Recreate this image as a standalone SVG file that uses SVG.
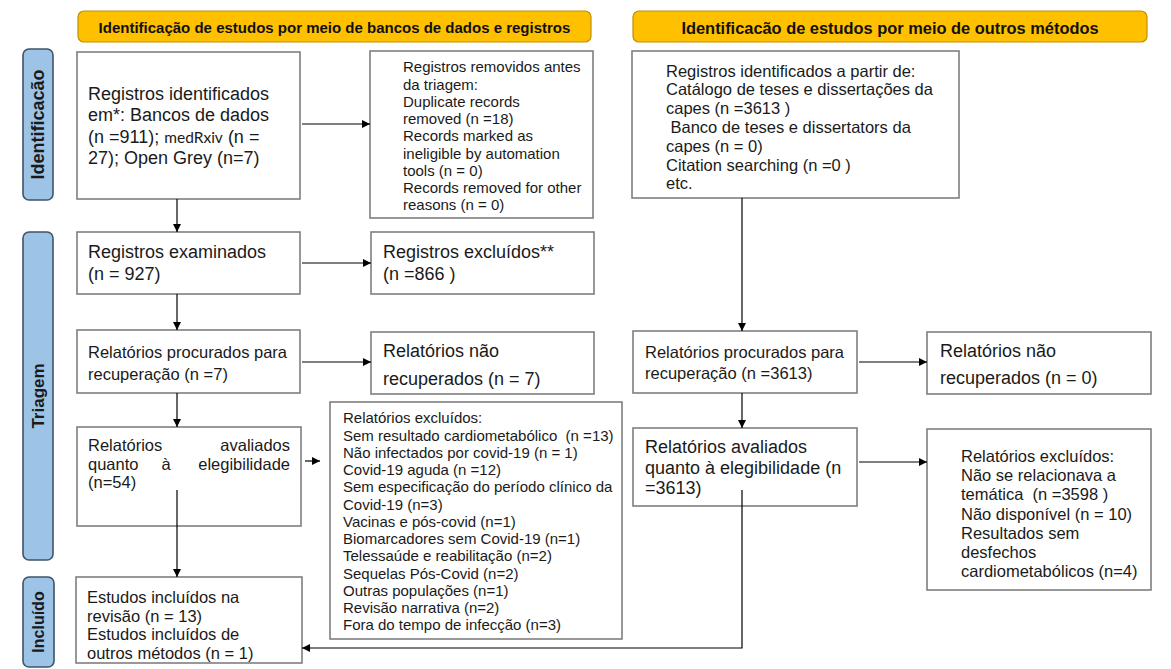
<svg xmlns="http://www.w3.org/2000/svg" width="1171" height="669" viewBox="0 0 1171 669">
<style>
text{font-family:"Liberation Sans",Arial,sans-serif;fill:#1a1a1a}
.box{fill:#fff;stroke:#7f7f7f;stroke-width:1.6}
.hdr{fill:#FFC000;stroke:#BF9000;stroke-width:1.2}
.side{fill:#9DC3E6;stroke:#3E5468;stroke-width:1.6}
.ht{font-weight:bold;text-anchor:middle;fill:#111}
.st{font-weight:bold;text-anchor:middle;fill:#1a1a1a}
.f18{font-size:18px}
.f165{font-size:16.5px}
.f15{font-size:15px}
.con{fill:none;stroke:#000;stroke-width:1.2;marker-end:url(#ah)}
</style>
<defs>
<marker id="ah" viewBox="0 0 10 10" refX="10" refY="5" markerWidth="9" markerHeight="8" markerUnits="userSpaceOnUse" orient="auto">
<path d="M0,0 L10,5 L0,10 z" fill="#000"/>
</marker>
</defs>
<rect width="1171" height="669" fill="#fff"/>

<g id="header-left">
<rect class="hdr" x="78" y="11" width="513" height="31" rx="6"/>
<text class="ht" x="334.5" y="33" font-size="15">Identificação de estudos por meio de bancos de dados e registros</text>
</g>
<g id="header-right">
<rect class="hdr" x="633" y="11" width="514" height="31" rx="6"/>
<text class="ht" x="890" y="34" font-size="16.4">Identificacão de estudos por meio de outros métodos</text>
</g>

<g id="side-identificacao">
<rect class="side" x="23" y="49" width="30" height="151" rx="6"/>
<text class="st" font-size="18" transform="translate(38,124.5) rotate(-90)" dy="6.3">Identificacão</text>
</g>
<g id="side-triagem">
<rect class="side" x="23" y="232" width="30" height="328" rx="6"/>
<text class="st" font-size="17" transform="translate(38,396) rotate(-90)" dy="6">Triagem</text>
</g>
<g id="side-incluido">
<rect class="side" x="23" y="577" width="31" height="90" rx="6"/>
<text class="st" font-size="16" transform="translate(38.5,622) rotate(-90)" dy="5.6">Incluído</text>
</g>

<g id="registros-identificados">
<rect class="box" x="77" y="52" width="223" height="147"/>
<text class="f18" x="88" y="99.5">Registros identificados</text>
<text class="f18" x="88" y="121">em*: Bancos de dados</text>
<text class="f18" x="88" y="142.5">(n =911); <tspan font-family="Lato, 'Open Sans', sans-serif" font-size="15.5">medRxiv</tspan> (n =</text>
<text class="f18" x="88" y="164">27); Open Grey (n=7)</text>
</g>

<g id="registros-removidos">
<rect class="box" x="370" y="51" width="223" height="167"/>
<text class="f15" x="403" y="72.3">Registros removidos antes</text>
<text class="f15" x="403" y="89.5">da triagem:</text>
<text class="f15" x="403" y="106.8">Duplicate records</text>
<text class="f15" x="403" y="124">removed (n =18)</text>
<text class="f15" x="403" y="141.3">Records marked as</text>
<text class="f15" x="403" y="158.5">ineligible by automation</text>
<text class="f15" x="403" y="175.8">tools (n = 0)</text>
<text class="f15" x="403" y="193">Records removed for other</text>
<text class="f15" x="403" y="210.3">reasons (n = 0)</text>
</g>

<g id="registros-examinados">
<rect class="box" x="77" y="232" width="223" height="62"/>
<text class="f18" x="88" y="258">Registros examinados</text>
<text class="f18" x="88" y="280">(n = 927)</text>
</g>

<g id="registros-excluidos">
<rect class="box" x="371" y="232" width="223" height="62"/>
<text class="f18" x="383" y="258">Registros excluídos**</text>
<text class="f18" x="383" y="280">(n =866 )</text>
</g>

<g id="relatorios-procurados-1">
<rect class="box" x="77" y="330" width="223" height="63"/>
<text class="f165" x="88" y="358">Relatórios procurados para</text>
<text class="f165" x="88" y="380">recuperação (n =7)</text>
</g>

<g id="relatorios-nao-recuperados-1">
<rect class="box" x="371" y="332" width="223" height="62"/>
<text class="f18" x="383" y="357">Relatórios não</text>
<text class="f18" x="383" y="385">recuperados (n = 7)</text>
</g>

<g id="relatorios-avaliados-1">
<rect class="box" x="77" y="427" width="224" height="99"/>
<text class="f165" x="88" y="451">Relatórios</text>
<text class="f165" x="290" y="451" text-anchor="end">avaliados</text>
<text class="f165" x="88" y="470">quanto</text>
<text class="f165" x="166" y="470" text-anchor="middle">à</text>
<text class="f165" x="290" y="470" text-anchor="end">elegibilidade</text>
<text class="f165" x="88" y="488">(n=54)</text>
</g>

<g id="relatorios-excluidos-1">
<rect class="box" x="330" y="402" width="292" height="237"/>
<text class="f15" x="343" y="423.3">Relatórios excluídos:</text>
<text class="f15" x="343" y="440.5" xml:space="preserve">Sem resultado cardiometabólico  (n =13)</text>
<text class="f15" x="343" y="457.8">Não infectados por covid-19 (n = 1)</text>
<text class="f15" x="343" y="475">Covid-19 aguda (n =12)</text>
<text class="f15" x="343" y="492.3">Sem especificação do período clínico da</text>
<text class="f15" x="343" y="509.5">Covid-19 (n=3)</text>
<text class="f15" x="343" y="526.8">Vacinas e pós-covid (n=1)</text>
<text class="f15" x="343" y="544">Biomarcadores sem Covid-19 (n=1)</text>
<text class="f15" x="343" y="561.3">Telessaúde e reabilitação (n=2)</text>
<text class="f15" x="343" y="578.5">Sequelas Pós-Covid (n=2)</text>
<text class="f15" x="343" y="595.8">Outras populações (n=1)</text>
<text class="f15" x="343" y="613">Revisão narrativa (n=2)</text>
<text class="f15" x="343" y="630.3">Fora do tempo de infecção (n=3)</text>
</g>

<g id="estudos-incluidos">
<rect class="box" x="76" y="577" width="226" height="86"/>
<text class="f165" x="87" y="603">Estudos incluídos na</text>
<text class="f165" x="87" y="622">revisão (n = 13)</text>
<text class="f165" x="87" y="640">Estudos incluídos de</text>
<text class="f165" x="87" y="658.5">outros métodos (n = 1)</text>
</g>

<g id="registros-outros">
<rect class="box" x="632" y="51" width="327" height="147"/>
<text class="f165" x="666" y="76.5">Registros identificados a partir de:</text>
<text class="f165" x="666" y="95.3">Catálogo de teses e dissertações da</text>
<text class="f165" x="666" y="114.1">capes (n =3613 )</text>
<text class="f165" x="670.5" y="132.9">Banco de teses e dissertators da</text>
<text class="f165" x="666" y="151.7">capes (n = 0)</text>
<text class="f165" x="666" y="170.5">Citation searching (n =0 )</text>
<text class="f165" x="666" y="189.3">etc.</text>
</g>

<g id="relatorios-procurados-2">
<rect class="box" x="633" y="331" width="224" height="62"/>
<text class="f165" x="645" y="358">Relatórios procurados para</text>
<text class="f165" x="645" y="379">recuperação (n =3613)</text>
</g>

<g id="relatorios-nao-recuperados-2">
<rect class="box" x="927" y="332" width="224" height="62"/>
<text class="f18" x="940" y="357">Relatórios não</text>
<text class="f18" x="940" y="384">recuperados (n = 0)</text>
</g>

<g id="relatorios-avaliados-2">
<rect class="box" x="633" y="428" width="224" height="78"/>
<text class="f18" x="645" y="453">Relatórios avaliados</text>
<text class="f18" x="645" y="474">quanto à elegibilidade (n</text>
<text class="f18" x="645" y="494">=3613)</text>
</g>

<g id="relatorios-excluidos-2">
<rect class="box" x="927" y="429" width="224" height="161"/>
<text class="f165" x="961" y="462">Relatórios excluídos:</text>
<text class="f165" x="961" y="481">Não se relacionava a</text>
<text class="f165" x="961" y="500" xml:space="preserve">temática  (n =3598 )</text>
<text class="f165" x="961" y="519.5">Não disponível (n = 10)</text>
<text class="f165" x="961" y="538.5">Resultados sem</text>
<text class="f165" x="961" y="558">desfechos</text>
<text class="f165" x="961" y="577">cardiometabólicos (n=4)</text>
</g>

<g id="connectors">
<path class="con" d="M302,124 H370"/>
<path class="con" d="M177,199 V232"/>
<path class="con" d="M302,263 H371"/>
<path class="con" d="M177,294 V330"/>
<path class="con" d="M302,362 H371"/>
<path class="con" d="M177,393 V427"/>
<path class="con" d="M305,461 H320"/>
<path class="con" d="M177,490 V577"/>
<path class="con" d="M742,198 V331"/>
<path class="con" d="M859,362 H927"/>
<path class="con" d="M742,393 V428"/>
<path class="con" d="M859,462 H927"/>
<path class="con" d="M742,490 V648 H302"/>
</g>
</svg>
